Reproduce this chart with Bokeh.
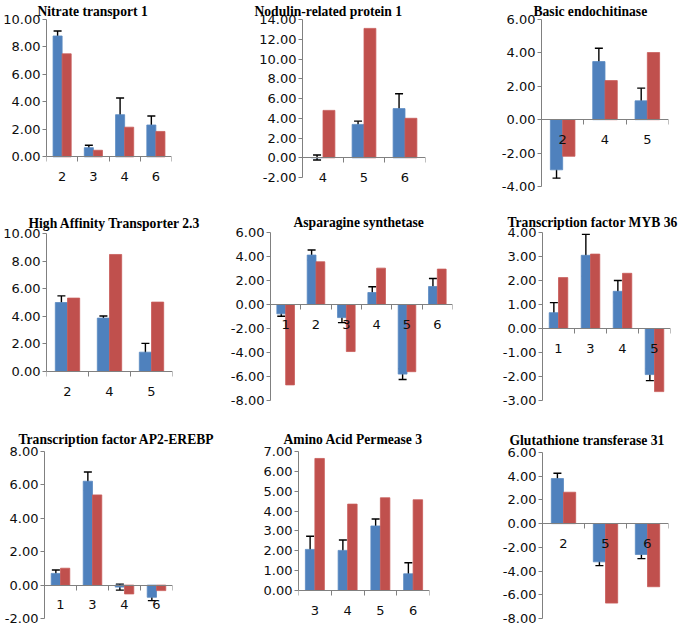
import numpy as np
from bokeh.plotting import figure
from bokeh.models import (Range1d, LinearAxis, FixedTicker, NumeralTickFormatter, Whisker,
                          ColumnDataSource, TeeHead, Title)
from bokeh.layouts import column, row
from bokeh.embed import file_html
from bokeh.resources import INLINE

# ---------------- data ----------------
titles = ["Nitrate transport 1", "Nodulin-related protein 1", "Basic endochitinase",
          "High Affinity Transporter 2.3", "Asparagine synthetase", "Transcription factor MYB 36",
          "Transcription factor AP2-EREBP", "Amino Acid Permease 3", "Glutathione transferase 31"]

cats_1 = ["2", "3", "4", "6"]
blue_1 = [8.80, 0.67, 3.07, 2.32]
err_1 = [0.36, 0.18, 1.22, 0.65]
red_1 = [7.50, 0.48, 2.16, 1.85]

cats_2 = ["4", "5", "6"]
blue_2 = [0.03, 3.38, 4.98]
err_2 = [0.25, 0.33, 1.50]
red_2 = [4.80, 13.10, 4.00]

cats_3 = ["2", "4", "5"]
blue_3 = [-3.00, 3.48, 1.13]
err_3 = [0.50, 0.80, 0.76]
red_3 = [-2.19, 2.34, 4.02]

cats_4 = ["2", "4", "5"]
blue_4 = [5.00, 3.87, 1.40]
err_4 = [0.48, 0.15, 0.64]
red_4 = [5.32, 8.48, 5.03]

cats_5 = ["1", "2", "3", "4", "5", "6"]
blue_5 = [-0.78, 4.12, -1.09, 1.00, -5.80, 1.50]
err_5 = [0.20, 0.42, 0.42, 0.48, 0.45, 0.67]
red_5 = [-6.70, 3.56, -3.92, 3.03, -5.60, 2.95]

cats_6 = ["1", "3", "4", "5"]
blue_6 = [0.66, 3.05, 1.55, -1.92]
err_6 = [0.42, 0.87, 0.45, 0.25]
red_6 = [2.12, 3.10, 2.30, -2.63]

cats_7 = ["1", "3", "4", "6"]
blue_7 = [0.70, 6.22, -0.12, -0.73]
err_7 = [0.20, 0.55, 0.18, 0.20]
red_7 = [1.01, 5.40, -0.53, -0.33]

cats_8 = ["3", "4", "5", "6"]
blue_8 = [2.07, 2.02, 3.25, 0.84]
err_8 = [0.66, 0.52, 0.35, 0.56]
red_8 = [6.65, 4.35, 4.67, 4.57]

cats_9 = ["2", "5", "6"]
blue_9 = [3.80, -3.22, -2.60]
err_9 = [0.45, 0.32, 0.35]
red_9 = [2.65, -6.70, -5.32]

# y axis: first tick, last tick, step
y_axes = [(0, 10, 2), (-2, 14, 2), (-4, 6, 2),
          (0, 10, 2), (-8, 6, 2), (-3, 4, 1),
          (-2, 8, 2), (0, 7, 1), (-8, 6, 2)]

# ---------------- layout / style ----------------
BLUE = "#4F81BD"
RED = "#C0504D"
AXIS = "#808080"
TXT = "#0d0d0d"
LABEL_FONT = "DejaVu Sans"
TITLE_FONT = "Liberation Serif"

# (width, height, left, right, top, bottom, extra_frame_below_px, title_offset, title_standoff)
# the frame is extended below the lowest tick by "extra" px so that the category labels fit inside it
boxes = [
    (226, 200, 46, 55, 17, 14, 30, -9, 2),
    (229, 200, 76, 30, 18, 11, 12, -48, 2),
    (230, 200, 86, 17, 18, 14, 0, -8, 2),
    (226, 212, 46, 54, 33, 11, 30, -18, 6),
    (229, 212, 44, 3, 32, 12, 0, 23, 6),
    (230, 212, 87, 15, 32, 12, 0, -35, 6),
    (226, 213, 44, 54, 39, 7, 0, -26, 9),
    (229, 213, 72, 26, 39, 5, 30, -15, 9),
    (230, 213, 87, 17, 40, 7, 0, -33, 9),
]

BAR_W = 0.29


def panel(i, cats, blue, err, red):
    W, H, L, R, T, B, extra, toff, tstand = boxes[i]
    lo, hi, step = y_axes[i]
    n = len(cats)
    pos = np.arange(1, n + 1)
    fh = H - T - B
    lo_range = lo - extra * (hi - lo) / (fh - extra) if extra else lo
    p = figure(width=W, height=H, x_range=Range1d(0.5, n + 0.5), y_range=Range1d(lo_range, hi),
               output_backend="svg", toolbar_location=None, x_axis_type=None,
               title_location=None, frame_align=False,
               min_border_left=L, min_border_right=R, min_border_top=T, min_border_bottom=B)
    p.grid.visible = False
    p.outline_line_color = None
    p.background_fill_color = "white"
    p.border_fill_color = "white"

    p.add_layout(Title(text=titles[i], align="left", offset=toff, standoff=tstand,
                       text_font=TITLE_FONT, text_font_size="13.6px",
                       text_font_style="bold", text_color="black"), "above")

    # y axis
    ya = p.yaxis[0]
    ya.bounds = (lo, hi)
    ya.ticker = FixedTicker(ticks=list(np.arange(lo, hi + step / 2, step)))
    ya.formatter = NumeralTickFormatter(format="0.00")
    ya.axis_line_color = AXIS
    ya.major_tick_line_color = AXIS
    ya.major_tick_out = 4
    ya.major_tick_in = 0
    ya.minor_tick_line_color = None
    ya.major_label_standoff = 2
    ya.major_label_text_font = LABEL_FONT
    ya.major_label_text_font_size = "13px"
    ya.major_label_text_color = TXT

    # bars
    bsrc = ColumnDataSource(dict(x=pos - BAR_W / 2, top=blue,
                                 upper=np.array(blue) + np.array(err),
                                 lower=np.array(blue) - np.array(err)))
    rsrc = ColumnDataSource(dict(x=pos + BAR_W / 2, top=red))
    p.vbar(x="x", top="top", bottom=0, width=BAR_W, source=bsrc,
           fill_color=BLUE, line_color="#5a8ac2", line_width=0.8)
    p.vbar(x="x", top="top", bottom=0, width=BAR_W, source=rsrc,
           fill_color=RED, line_color="#c85c59", line_width=0.8)

    wk = Whisker(base="x", upper="upper", lower="lower", source=bsrc,
                 line_color="black", line_width=1.4,
                 upper_head=TeeHead(size=8, line_color="black", line_width=1.4),
                 lower_head=TeeHead(size=8, line_color="black", line_width=1.4))
    p.add_layout(wk)

    # category axis line at y = 0 with ticks at the category boundaries
    xt = LinearAxis(ticker=FixedTicker(ticks=list(np.arange(0.5, n + 1, 1.0))),
                    major_label_text_font_size="0px", major_label_text_alpha=0,
                    major_label_standoff=0,
                    axis_line_color=AXIS, major_tick_line_color=AXIS, major_tick_line_width=1,
                    major_tick_out=5, major_tick_in=0, minor_tick_line_color=None)
    xt.fixed_location = 0
    p.add_layout(xt, "below")

    # category labels at the category centres, below the zero line
    xl = LinearAxis(ticker=FixedTicker(ticks=[int(v) for v in pos]),
                    major_label_overrides={int(v): c for v, c in zip(pos, cats)},
                    axis_line_color=None, major_tick_line_color=None,
                    major_tick_out=0, major_tick_in=0, minor_tick_line_color=None,
                    major_label_standoff=15, major_label_text_font=LABEL_FONT,
                    major_label_text_font_size="13px", major_label_text_color=TXT)
    xl.fixed_location = 0
    p.add_layout(xl, "below")
    return p


figs = [
    panel(0, cats_1, blue_1, err_1, red_1),
    panel(1, cats_2, blue_2, err_2, red_2),
    panel(2, cats_3, blue_3, err_3, red_3),
    panel(3, cats_4, blue_4, err_4, red_4),
    panel(4, cats_5, blue_5, err_5, red_5),
    panel(5, cats_6, blue_6, err_6, red_6),
    panel(6, cats_7, blue_7, err_7, red_7),
    panel(7, cats_8, blue_8, err_8, red_8),
    panel(8, cats_9, blue_9, err_9, red_9),
]

layout = column(row(*figs[0:3]), row(*figs[3:6]), row(*figs[6:9]))

open("out.html", "w").write(file_html(layout, INLINE))
